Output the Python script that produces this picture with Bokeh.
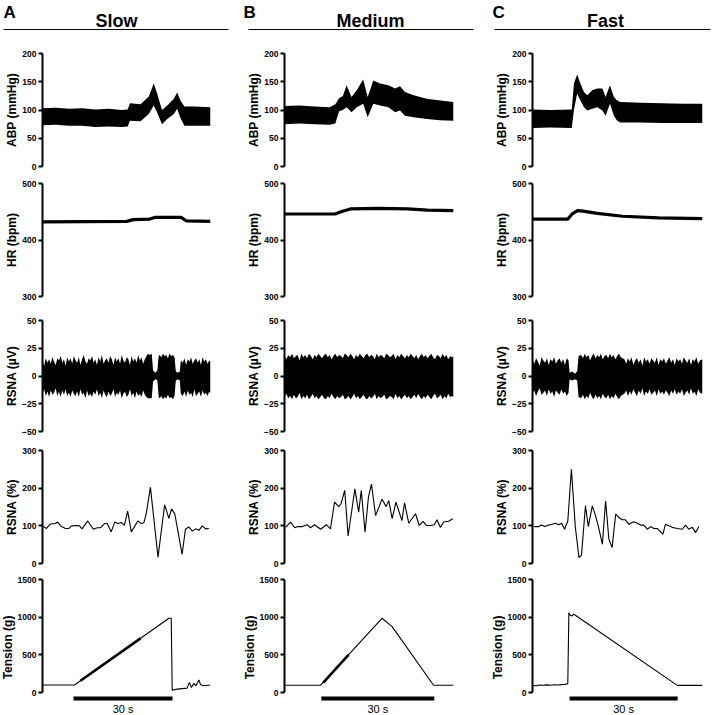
import numpy as np
from bokeh.plotting import figure
from bokeh.layouts import row, column
from bokeh.models import Range1d, FixedTicker, Label
from bokeh.embed import file_html
from bokeh.resources import INLINE
from bokeh.core.properties import value

FONT = "Liberation Sans"

# ---------------- labels / ticks ----------------
col_letters = ["A", "B", "C"]
col_titles = ["Slow", "Medium", "Fast"]
row_labels = ["ABP (mmHg)", "HR (bpm)", "RSNA (µV)", "RSNA (%)", "Tension (g)"]
abp_ticks = [0, 50, 100, 150, 200]
hr_ticks = [300, 400, 500]
rsna_ticks = [-50, -25, 0, 25, 50]
pct_ticks = [0, 100, 200, 300]
ten_ticks = [0, 500, 1000, 1500]
durations = [50.9, 44.9, 47.2]          # s shown in each column
stim_start = [9.4, 9.8, 10.3]           # s
stim_len = 30                           # s
stim_label = "30 s"

# ---------------- ABP envelopes (mmHg) ----------------
abp_a_t = [0, 4, 8, 12, 16, 20, 24, 25.8, 26.5, 29.7, 32.2, 33.7, 34.7, 36.2, 37.8, 39.8, 40.8, 41.8, 43.0, 46, 50.9]
abp_a_hi = [103, 104, 102, 103, 101, 102, 100, 101, 112, 110, 124, 147, 130, 100, 108, 120, 131, 117, 106, 106, 105]
abp_a_lo = [73, 74, 72, 72, 70, 71, 70, 71, 81, 80, 93, 108, 96, 75, 84, 93, 102, 86, 72, 72, 72]

abp_b_t = [0, 4, 8, 12, 13.5, 14.5, 15.5, 16.5, 17.8, 19.2, 20.9, 22.1, 23.6, 25.4, 27.6, 29.4, 30.7, 32.0, 34.3, 37.8, 41.4, 44.9]
abp_b_hi = [107, 108, 106, 105, 110, 121, 125, 144, 123, 135, 154, 123, 152, 147, 144, 138, 142, 132, 126, 120, 117, 114]
abp_b_lo = [75, 76, 75, 74, 76, 98, 100, 105, 96, 105, 111, 87, 111, 108, 105, 96, 99, 90, 87, 84, 82, 81]

abp_c_t = [0, 5, 10.9, 11.5, 12.4, 13.3, 14.3, 15.2, 16.6, 18.0, 19.4, 20.3, 21.5, 22.6, 23.5, 24.4, 30, 36, 42, 47.2]
abp_c_hi = [101, 100, 101, 147, 163, 147, 132, 126, 135, 138, 138, 123, 144, 123, 117, 114, 113, 112, 111, 111]
abp_c_lo = [68, 69, 68, 100, 129, 117, 105, 99, 102, 105, 99, 90, 111, 90, 81, 78, 78, 77, 77, 77]

# ---------------- HR (bpm) ----------------
hr_a_t = [0, 25.5, 27.5, 32.5, 34, 42, 43.5, 50.9]
hr_a = [432, 433, 436, 437, 440, 440, 434, 433]
hr_b_t = [0, 13.5, 15, 17.5, 25, 32.6, 38, 44.9]
hr_b = [446, 446, 450, 455, 456, 455, 453, 452]
hr_c_t = [0, 9.8, 11, 12.5, 14, 18, 25, 35, 47.2]
hr_c = [437, 437, 446, 452, 451, 447, 442, 439, 438]

# ---------------- raw RSNA envelopes (µV) ----------------
rsna_a_t = (list(np.arange(0, 33, 0.5)) + [33.1, 33.5, 34.2, 34.8, 35.2] + list(np.arange(35.5, 40.5, 0.5))
            + [40.4, 41.0, 41.6, 41.9] + list(np.arange(42.5, 51.0, 0.5)) + [50.9])
rsna_a_hi = [14, 9, 16, 12, 15, 11, 17, 13, 10, 16, 14, 18, 12, 15, 9, 17, 13, 16, 11, 18,
             14, 12, 17, 10, 15, 19, 13, 11, 16, 14, 18, 12, 15, 10, 17, 13, 19, 11, 14, 16,
             12, 18, 15, 10, 17, 13, 16, 11, 19, 14, 12, 17, 15, 10, 18, 13, 16, 12, 19, 14,
             17, 11, 15, 18, 20, 19,
             20, 5, 3, 5, 18,
             19, 17, 20, 18, 19, 16, 20, 18, 19, 17,
             4, 3, 4, 14,
             12, 16, 10, 15, 13, 17, 11, 14, 16, 12, 15, 10, 17, 13, 15, 11, 14,
             13]
rsna_a_lo = [-16, -12, -18, -14, -19, -13, -17, -15, -11, -18, -14, -19, -13, -17, -12, -18, -15, -19, -13, -16,
             -18, -14, -19, -12, -17, -15, -20, -13, -18, -16, -19, -14, -17, -12, -18, -15, -20, -13, -17, -19,
             -14, -18, -16, -12, -19, -15, -17, -13, -20, -16, -14, -19, -17, -12, -18, -15, -20, -14, -18, -16,
             -19, -13, -17, -19, -20, -20,
             -20, -5, -3, -4, -19,
             -20, -18, -21, -19, -20, -17, -20, -19, -21, -18,
             -4, -3, -4, -16,
             -18, -14, -19, -13, -17, -15, -19, -12, -18, -16, -14, -19, -13, -17, -15, -18, -14,
             -16]

rsna_b_t = list(np.arange(0, 45, 0.5)) + [44.9]
rsna_b_hi = [18, 15, 19, 17, 20, 16, 18, 19, 14, 20, 17, 19, 16, 20, 18, 15, 19, 17, 20, 18,
             16, 19, 20, 17, 19, 15, 18, 20, 17, 19, 18, 16, 20, 19, 17, 20, 18, 15, 19, 17,
             20, 18, 16, 19, 20, 17, 19, 18, 15, 20, 17, 19, 18, 16, 20, 19, 17, 18, 20, 15,
             19, 17, 20, 18, 16, 19, 17, 20, 18, 16, 19, 15, 18, 20, 17, 19, 16, 18, 20, 17,
             15, 19, 18, 16, 20, 17, 19, 15, 18, 17, 18]
rsna_b_lo = [-19, -16, -20, -18, -21, -17, -20, -19, -15, -21, -18, -20, -17, -21, -19, -16, -20, -18, -21, -19,
             -17, -20, -21, -18, -20, -16, -19, -21, -18, -20, -19, -17, -21, -20, -18, -21, -19, -16, -20, -18,
             -21, -19, -17, -20, -21, -18, -20, -19, -16, -21, -18, -20, -19, -17, -21, -20, -18, -19, -21, -16,
             -20, -18, -21, -19, -17, -20, -18, -21, -19, -17, -20, -16, -19, -21, -18, -20, -17, -19, -21, -18,
             -16, -20, -19, -17, -21, -18, -20, -16, -19, -18, -19]

rsna_c_t = (list(np.arange(0, 10.5, 0.5)) + [10.3, 11.0, 11.8, 12.4, 12.8] + list(np.arange(13.5, 25.5, 0.5))
            + list(np.arange(25.5, 47.0, 0.5)) + [47.2])
rsna_c_hi = [15, 11, 16, 13, 9, 17, 14, 12, 16, 10, 15, 13, 17, 11, 14, 16, 12, 15, 10, 16, 14,
             3, 4, 2, 4, 18,
             19, 16, 20, 17, 19, 14, 18, 20, 16, 19, 17, 20, 15, 18, 19, 16, 20, 17, 19, 15, 18, 20, 17, 16,
             15, 11, 16, 13, 17, 10, 14, 16, 12, 15, 9, 17, 13, 15, 11, 16, 14, 12, 17, 10,
             15, 13, 16, 11, 14, 17, 12, 15, 10, 16, 13, 15, 11, 17, 14, 12, 16, 10, 15, 13, 17, 11, 14, 15,
             14]
rsna_c_lo = [-16, -13, -18, -14, -11, -17, -15, -13, -18, -12, -16, -14, -19, -13, -15, -17, -12, -16, -14, -18, -15,
             -3, -4, -3, -4, -19,
             -20, -17, -21, -18, -20, -15, -19, -21, -17, -20, -18, -21, -16, -19, -20, -17, -21, -18, -20, -16,
             -19, -21, -18, -17,
             -16, -13, -18, -14, -17, -12, -15, -18, -13, -16, -11, -18, -14, -16, -12, -17, -15, -13, -18, -12,
             -16, -14, -17, -13, -15, -18, -13, -16, -12, -17, -14, -16, -12, -18, -15, -13, -17, -11, -16, -14,
             -18, -12, -15, -16,
             -15]

# ---------------- integrated RSNA (%) ----------------
pct_a_t = [0, 1.2, 2.4, 3.9, 4.6, 5.7, 7.0, 8.0, 8.8, 10.5, 11.2, 12.0, 13.7, 15.4, 16.6, 17.6, 18.8, 19.6, 20.8,
           21.9, 22.8, 23.8, 24.8, 25.8, 26.9, 28.9, 29.9, 30.7, 31.4, 32.7, 35.0, 37.0, 38.3, 39.1, 40.1, 42.3,
           43.3, 44.3, 45.4, 46.4, 47.4, 48.4, 49.4, 50.4]
pct_a = [100, 93, 105, 106, 110, 98, 93, 93, 100, 101, 100, 92, 113, 91, 95, 95, 106, 106, 84, 110, 106, 109,
         101, 139, 84, 113, 106, 108, 131, 202, 17, 156, 120, 145, 131, 24, 91, 97, 86, 92, 88, 100, 92, 93]

pct_b_t = [0.3, 1.6, 2.7, 3.5, 4.7, 6.0, 6.9, 8.0, 9.6, 11.1, 12.2, 13.3, 14.4, 15.0, 16.0, 16.9, 18.7, 19.7,
           20.4, 21.4, 22.3, 23.1, 24.2, 25.9, 27.0, 27.7, 28.6, 29.6, 31.2, 31.9, 33.0, 34.8, 35.8, 36.8, 37.7,
           38.8, 39.8, 40.5, 41.4, 42.3, 43.6, 44.7]
pct_b = [96, 110, 95, 98, 98, 103, 95, 103, 91, 103, 92, 163, 151, 158, 194, 73, 198, 136, 194, 83, 176, 211,
         127, 171, 151, 167, 119, 163, 114, 161, 107, 132, 101, 112, 101, 101, 103, 116, 96, 110, 112, 119]

pct_c_t = [0.4, 1.8, 2.5, 3.4, 4.5, 5.5, 6.4, 7.3, 8.1, 8.9, 9.8, 10.8, 11.9, 12.9, 13.6, 14.7, 15.5, 16.6,
           17.5, 18.4, 19.4, 20.3, 21.2, 22.1, 23.1, 24.0, 24.9, 25.8, 26.8, 28.1, 29.1, 30.0, 30.9, 31.9, 32.8,
           33.7, 34.6, 36.2, 36.9, 37.9, 38.8, 40.2, 41.6, 42.5, 43.4, 44.4, 45.3, 46.2]
pct_c = [98, 98, 102, 98, 102, 104, 107, 103, 107, 91, 113, 250, 96, 16, 22, 153, 98, 153, 127, 94, 51, 166,
         65, 42, 131, 122, 116, 116, 104, 111, 107, 102, 102, 91, 98, 93, 93, 78, 104, 100, 96, 93, 91, 102,
         91, 96, 82, 98]

# ---------------- Tension (g) ----------------
ten_a_t = [0, 9.7, 38.3, 39.0, 39.3, 40.8, 43.8, 44.5, 45.1, 45.9, 46.5, 47.4, 47.9, 48.9, 50.9]
ten_a = [100, 100, 985, 985, 30, 45, 58, 134, 67, 121, 90, 166, 103, 90, 100]
ten_b_t = [0, 9.6, 25.9, 28.6, 39.6, 44.9]
ten_b = [97, 97, 985, 874, 97, 97]
ten_c_t = [0, 1, 2, 3, 4, 5, 6, 7, 8, 9, 9.8, 10.1, 10.4, 11.0, 11.4, 11.9, 40.2, 47.2]
ten_c = [95, 90, 100, 96, 101, 97, 103, 100, 104, 106, 118, 1060, 1030, 1015, 1040, 1025, 95, 95]
# noisier (thicker) stretch of the loading ramp
ten_noise_t = [[11.5, 29.7], [10.3, 17.0], []]
ten_noise = [[156, 719], [131, 500], []]

abp = [(abp_a_t, abp_a_lo, abp_a_hi), (abp_b_t, abp_b_lo, abp_b_hi), (abp_c_t, abp_c_lo, abp_c_hi)]
hr = [(hr_a_t, hr_a), (hr_b_t, hr_b), (hr_c_t, hr_c)]
rsna = [(rsna_a_t, rsna_a_lo, rsna_a_hi), (rsna_b_t, rsna_b_lo, rsna_b_hi), (rsna_c_t, rsna_c_lo, rsna_c_hi)]
pct = [(pct_a_t, pct_a), (pct_b_t, pct_b), (pct_c_t, pct_c)]
ten = [(ten_a_t, ten_a), (ten_b_t, ten_b), (ten_c_t, ten_c)]

# ---------------- layout geometry (pixels) ----------------
col_w = [242, 248, 227]
bord_l = [47, 47, 47]
bord_r = [27, 32, 10]
HEAD_H = 45
FRAME = 113
rows_geom = [(129, 8, 8), (134, 9, 12), (132, 12, 9), (131, 10, 8)]   # (height, top, bottom)
TEN_H, TEN_TOP, TEN_EXT = 144, 8, 23
# header geometry per column: (letter x, title centre x, rule x0, rule x1), px from column's left
head_geom = [(8, 121, 8, 233), (6, 133, 11, 236), (7, 120, 9, 225)]
TXT_SHIFT = 5                                   # svg text sits this much lower than asked
LETTER_BASE, TITLE_BASE, RULE_Y = 17 - TXT_SHIFT, 25 - TXT_SHIFT, 29   # px from top of header
BAR_PX, LABEL_PX = 6, 21 - TXT_SHIFT             # px below the zero line

BLACK = "#000000"


def base_fig(w, h, bl, br, bt, bb, xend, ys, ye, ticks, label, bounds="auto"):
    p = figure(width=w, height=h, x_range=Range1d(0, xend), y_range=Range1d(ys, ye),
               x_axis_type=None, output_backend="svg", toolbar_location=None,
               min_border_left=bl, min_border_right=br, min_border_top=bt, min_border_bottom=bb)
    p.outline_line_color = None
    p.grid.grid_line_color = None
    p.background_fill_color = "white"
    p.border_fill_color = "white"
    ax = p.yaxis[0]
    ax.ticker = FixedTicker(ticks=ticks)
    ax.bounds = bounds
    ax.axis_label = label
    ax.axis_label_text_font = FONT
    ax.axis_label_text_font_style = "bold"
    ax.axis_label_text_font_size = "12px"
    ax.axis_label_text_color = BLACK
    ax.axis_label_standoff = 0
    ax.major_label_text_font = FONT
    ax.major_label_text_font_style = "bold"
    ax.major_label_text_font_size = "8.5px"
    ax.major_label_text_color = BLACK
    ax.major_label_standoff = 2
    ax.axis_line_width = 2
    ax.axis_line_color = BLACK
    ax.major_tick_line_width = 2
    ax.major_tick_line_color = BLACK
    ax.major_tick_out = 4
    ax.major_tick_in = 0
    ax.minor_tick_line_color = None
    return p


columns = []
for i in range(3):
    w, bl, br, dur = col_w[i], bord_l[i], bord_r[i], durations[i]

    # header: data units = pixels, y measured upward from the header's bottom
    lx, tx, r0, r1 = head_geom[i]
    h = figure(width=w, height=HEAD_H, x_range=Range1d(0, w), y_range=Range1d(0, HEAD_H),
               x_axis_type=None, y_axis_type=None, output_backend="svg", toolbar_location=None,
               min_border=0)
    try:
        h.frame_align = False
    except Exception:
        pass
    h.outline_line_color = None
    h.background_fill_color = "white"
    h.border_fill_color = "white"
    h.add_layout(Label(x=lx, y=HEAD_H - LETTER_BASE, text=col_letters[i], text_font=FONT,
                       text_font_style="bold", text_font_size="17px", text_color=BLACK,
                       text_baseline="alphabetic"))
    h.add_layout(Label(x=tx, y=HEAD_H - TITLE_BASE, text=col_titles[i], text_font=FONT,
                       text_font_style="bold", text_font_size="18px", text_color=BLACK,
                       text_align="center", text_baseline="alphabetic"))
    h.segment(x0=[r0], y0=[HEAD_H - RULE_Y], x1=[r1], y1=[HEAD_H - RULE_Y], line_color=BLACK, line_width=1.2)

    figs = [h]
    g = rows_geom[0]
    p = base_fig(w, g[0], bl, br, g[1], g[2], dur, 0, 200, abp_ticks, row_labels[0])
    t, lo, hi = abp[i]
    p.varea(x=t, y1=lo, y2=hi, fill_color=BLACK)
    figs.append(p)

    g = rows_geom[1]
    p = base_fig(w, g[0], bl, br, g[1], g[2], dur, 300, 500, hr_ticks, row_labels[1])
    t, v = hr[i]
    p.line(t, v, line_color=BLACK, line_width=3.2)
    figs.append(p)

    g = rows_geom[2]
    p = base_fig(w, g[0], bl, br, g[1], g[2], dur, -50, 50, rsna_ticks, row_labels[2])
    t, lo, hi = rsna[i]
    p.varea(x=t, y1=lo, y2=hi, fill_color=BLACK)
    figs.append(p)

    g = rows_geom[3]
    p = base_fig(w, g[0], bl, br, g[1], g[2], dur, 0, 300, pct_ticks, row_labels[3])
    t, v = pct[i]
    p.line(t, v, line_color=BLACK, line_width=1.1)
    figs.append(p)

    top = ten_ticks[-1]
    per_px = top / FRAME
    p = base_fig(w, TEN_H, bl, br, TEN_TOP, 0, dur, -TEN_EXT * per_px, top, ten_ticks, row_labels[4],
                 bounds=(0, top))
    t, v = ten[i]
    p.line(t, v, line_color=BLACK, line_width=1.1)
    if ten_noise_t[i]:
        p.line(ten_noise_t[i], ten_noise[i], line_color=BLACK, line_width=2.6)
    s0 = stim_start[i]
    p.segment(x0=[s0], x1=[s0 + stim_len], y0=[-BAR_PX * per_px], y1=[-BAR_PX * per_px],
              line_color=BLACK, line_width=4, line_cap="butt")
    p.text(x=[s0 + stim_len / 2], y=[-LABEL_PX * per_px], text=[stim_label], text_align="center",
           text_baseline="alphabetic", text_font=value(FONT), text_font_size="11px", text_color=BLACK)
    figs.append(p)

    columns.append(column(*figs))

layout = row(*columns, styles={"margin-left": "-5px"})

open("out.html", "w").write(file_html(layout, INLINE))
